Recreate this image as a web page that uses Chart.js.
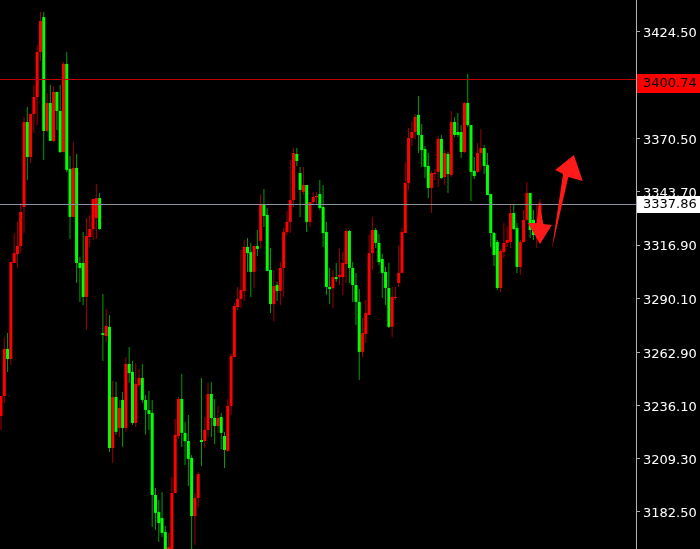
<!DOCTYPE html>
<html><head><meta charset="utf-8">
<script src="https://cdn.jsdelivr.net/npm/chart.js@4.4.0/dist/chart.umd.min.js"></script>
<style>html,body{margin:0;padding:0;background:#000;overflow:hidden}#wrap{width:700px;height:549px;position:relative}</style>
</head><body><div id="wrap"><canvas id="c" width="700" height="549"></canvas></div>
<script>
// OHLC series (one entry per candle, oldest first)
const open = [3230.8,3240.9,3264.6,3259.5,3307.9,3312.4,3316.5,3336.1,3378.9,3361.3,3383.0,3391.5,3414.2,3431.8,3374.4,3388.5,3369.4,3394.1,3384.5,3363.8,3408.2,3355.3,3331.1,3355.8,3307.9,3307.9,3290.8,3321.0,3325.0,3330.6,3340.6,3272.6,3271.1,3275.7,3214.7,3240.4,3224.8,3238.9,3224.8,3257.0,3253.0,3227.3,3246.4,3250.0,3238.9,3233.8,3232.3,3191.0,3182.5,3179.4,3172.4,3162.3,3162.3,3192.0,3220.7,3239.4,3222.3,3218.2,3209.7,3180.4,3189.5,3218.7,3218.2,3223.8,3241.9,3229.8,3225.8,3230.3,3220.7,3213.2,3235.9,3260.5,3285.7,3289.8,3293.8,3316.0,3313.4,3303.4,3316.5,3319.0,3337.6,3332.1,3304.4,3287.2,3296.8,3293.8,3305.4,3323.5,3328.6,3339.6,3362.8,3353.2,3343.7,3347.2,3328.6,3338.6,3341.1,3342.7,3336.1,3323.5,3295.8,3295.3,3300.8,3300.8,3300.8,3307.4,3324.0,3305.4,3296.8,3288.3,3263.1,3272.1,3281.7,3312.9,3324.5,3318.0,3309.9,3303.4,3295.3,3275.7,3290.3,3297.8,3302.9,3323.0,3348.2,3370.9,3373.9,3382.5,3372.4,3365.3,3356.8,3345.7,3352.7,3353.8,3370.4,3351.2,3362.8,3352.2,3378.9,3373.9,3373.9,3363.8,3388.5,3377.4,3354.3,3353.8,3363.3,3365.8,3357.3,3342.7,3323.0,3318.5,3295.3,3313.4,3318.0,3318.5,3333.1,3325.5,3305.9,3318.5,3329.6,3343.2,3329.6,3323.0,3325.5];
const high = [3240.9,3270.6,3272.6,3308.4,3323.0,3328.6,3338.1,3381.5,3386.5,3383.0,3397.6,3417.7,3434.4,3434.4,3393.5,3397.6,3397.1,3394.1,3397.6,3409.2,3414.2,3361.8,3368.9,3362.8,3310.9,3323.5,3330.6,3332.1,3340.1,3347.7,3343.2,3292.3,3284.7,3281.7,3248.5,3248.0,3238.9,3242.9,3260.5,3265.6,3258.5,3257.5,3254.5,3257.0,3241.4,3243.4,3238.9,3194.5,3188.5,3192.5,3175.4,3171.9,3200.1,3229.3,3240.4,3252.0,3227.8,3231.3,3211.2,3192.0,3202.6,3250.0,3230.3,3247.5,3248.0,3239.4,3235.9,3232.3,3222.8,3239.4,3262.1,3287.7,3295.8,3314.4,3319.5,3320.5,3318.0,3316.5,3324.5,3342.7,3345.2,3335.6,3315.5,3304.4,3298.3,3308.4,3325.5,3334.1,3359.8,3365.8,3365.8,3356.3,3356.3,3347.2,3338.6,3343.7,3343.7,3349.7,3347.2,3328.6,3305.4,3304.4,3307.9,3315.5,3313.4,3325.5,3324.5,3308.4,3302.9,3294.8,3280.2,3289.3,3322.0,3331.1,3325.5,3322.5,3312.4,3305.9,3307.9,3295.8,3295.8,3316.5,3325.5,3358.8,3375.9,3378.9,3383.0,3392.0,3377.9,3366.8,3363.3,3354.3,3355.3,3371.9,3372.4,3364.8,3363.8,3384.5,3381.5,3383.5,3377.4,3389.0,3403.1,3377.4,3361.3,3368.4,3375.4,3367.3,3363.3,3342.7,3323.5,3319.5,3315.0,3328.1,3326.5,3337.6,3337.6,3328.1,3319.5,3334.6,3348.7,3343.2,3334.6,3337.6,3340.1];
const low = [3223.8,3237.4,3253.0,3256.5,3307.9,3305.4,3313.4,3323.0,3349.7,3358.3,3373.4,3377.4,3409.7,3359.8,3373.9,3369.4,3368.9,3374.9,3363.3,3363.8,3353.8,3320.0,3331.1,3297.8,3288.3,3286.7,3274.1,3316.0,3319.5,3320.0,3324.5,3258.5,3268.1,3212.7,3207.1,3221.3,3220.2,3215.2,3222.8,3247.5,3226.3,3225.3,3245.4,3237.4,3221.3,3223.8,3174.9,3173.4,3167.3,3169.9,3158.3,3160.8,3160.8,3192.0,3219.2,3215.2,3206.1,3195.5,3163.8,3165.8,3185.0,3205.6,3214.7,3220.2,3220.2,3216.7,3222.3,3214.2,3204.6,3212.7,3231.3,3260.5,3284.2,3285.2,3288.8,3303.4,3290.8,3295.3,3311.4,3315.5,3326.0,3303.9,3282.7,3278.7,3288.8,3286.7,3290.8,3322.0,3323.0,3336.1,3356.8,3331.1,3342.2,3323.5,3326.0,3337.6,3337.1,3334.6,3316.0,3291.8,3287.2,3285.2,3298.3,3296.8,3291.8,3297.8,3297.8,3288.3,3276.7,3249.0,3260.5,3267.6,3281.7,3304.4,3315.5,3306.9,3290.3,3286.7,3275.2,3270.6,3289.3,3295.8,3302.9,3323.0,3344.7,3366.8,3370.4,3363.3,3356.3,3350.7,3340.6,3333.1,3349.7,3346.2,3350.2,3347.2,3343.2,3351.2,3371.4,3371.4,3360.8,3363.3,3376.4,3339.1,3350.2,3353.2,3354.8,3352.7,3342.2,3316.0,3306.4,3294.3,3293.3,3310.4,3316.0,3315.5,3324.5,3302.9,3301.9,3318.0,3329.1,3320.5,3319.5,3315.5,3322.0];
const close = [3240.9,3264.6,3259.5,3308.4,3312.9,3316.5,3333.6,3378.9,3361.3,3383.0,3391.5,3414.2,3429.8,3374.4,3388.5,3369.4,3394.1,3384.5,3363.8,3408.2,3354.8,3331.1,3355.8,3307.9,3305.4,3290.8,3321.5,3325.0,3340.1,3340.6,3325.0,3271.6,3276.2,3214.7,3240.4,3222.8,3234.9,3224.8,3257.0,3252.5,3227.3,3247.0,3250.0,3238.9,3233.8,3231.8,3191.0,3182.0,3176.9,3171.9,3162.3,3164.8,3192.0,3221.3,3239.4,3222.3,3218.2,3209.2,3180.4,3189.5,3201.6,3217.7,3223.8,3241.9,3229.8,3225.8,3229.8,3222.3,3213.7,3235.9,3261.0,3286.2,3289.8,3294.3,3316.0,3312.9,3303.4,3316.5,3315.0,3337.6,3331.6,3303.9,3287.2,3296.3,3293.8,3305.4,3323.5,3328.6,3339.6,3363.3,3359.3,3344.7,3347.2,3328.6,3338.6,3341.1,3341.7,3335.6,3323.0,3295.8,3294.8,3300.8,3299.8,3301.9,3307.9,3324.0,3305.4,3296.8,3288.3,3263.1,3272.6,3282.7,3312.9,3324.5,3318.0,3308.4,3302.9,3295.3,3275.7,3290.8,3290.8,3302.9,3323.5,3348.2,3370.9,3373.9,3381.5,3372.4,3364.8,3356.3,3345.7,3353.2,3353.2,3370.4,3350.7,3363.3,3352.7,3378.9,3372.4,3372.4,3363.8,3388.5,3377.4,3353.8,3351.7,3363.3,3365.8,3356.8,3342.2,3323.0,3311.9,3295.3,3313.9,3318.0,3319.5,3333.1,3325.0,3305.9,3318.5,3329.6,3343.2,3324.5,3322.0,3327.0,3337.9];
const barIndex = open.map((_, i) => i);
const yTickValues = [3424.50, 3370.50, 3343.70, 3316.90, 3290.10, 3262.90, 3236.10, 3209.30, 3182.50];
const levelPrice = 3400.74;
const bidPrice = 3337.86;
// hand-drawn arrows, as [barIndex, price] points
const arrowUp = [[167.6,3315.0],[172.6,3351.2],[177.0,3349.2],[174.3,3362.3],[168.6,3354.8],[171.0,3352.7]];
const arrowDown = [[163.7,3339.1],[165.0,3327.5],[167.6,3327.0],[164.0,3317.5],[160.3,3328.0],[163.0,3328.0]];

const FONT = {family: 'DejaVu Sans', size: 13};
const isUp = i => close[i] >= open[i];

const bgPlugin = {
  id: 'bg',
  beforeDraw(chart) {
    const ctx = chart.ctx;
    ctx.save(); ctx.fillStyle = '#000'; ctx.fillRect(0, 0, chart.width, chart.height); ctx.restore();
  }
};
const overlayPlugin = {
  id: 'overlay',
  afterDatasetsDraw(chart) {
    const {ctx, chartArea: a, scales: {x, y}} = chart;
    ctx.save();
    const hl = (p, col) => {
      const py = Math.round(y.getPixelForValue(p)) + 0.5;
      ctx.strokeStyle = col; ctx.lineWidth = 1;
      ctx.beginPath(); ctx.moveTo(a.left, py); ctx.lineTo(a.right, py); ctx.stroke();
    };
    hl(levelPrice, '#c00000');
    hl(bidPrice, '#8a9099');
    ctx.fillStyle = '#ff1a1a';
    [arrowUp, arrowDown].forEach(poly => {
      ctx.beginPath();
      poly.forEach(([i, p], k) => {
        const px = x.getPixelForValue(i), py = y.getPixelForValue(p);
        k ? ctx.lineTo(px, py) : ctx.moveTo(px, py);
      });
      ctx.closePath(); ctx.fill();
    });
    ctx.restore();
  },
  afterDraw(chart) {
    const {ctx, chartArea: a, scales: {y}} = chart;
    ctx.save();
    ctx.font = FONT.size + 'px ' + FONT.family;
    ctx.textBaseline = 'middle';
    const box = (p, bg, dy, h) => {
      const py = Math.round(y.getPixelForValue(p));
      ctx.fillStyle = bg;
      ctx.fillRect(a.right + 1, py + dy, chart.width - a.right - 1, h);
      ctx.fillStyle = '#000';
      ctx.fillText(p.toFixed(2), a.right + 7, py + dy + h / 2 + 0.5);
    };
    box(levelPrice, '#ff0000', -5, 19);
    box(bidPrice, '#ffffff', -8, 17);
    ctx.restore();
  }
};

new Chart(document.getElementById('c'), {
  type: 'bar',
  data: {
    datasets: [
      {
        label: 'wick',
        data: barIndex.map(i => ({x: i, y: [low[i], high[i]]})),
        backgroundColor: barIndex.map(i => isUp(i) ? '#a00000' : '#00a000'),
        barThickness: 1, grouped: false, order: 2, borderWidth: 0, inflateAmount: 0
      },
      {
        label: 'body',
        data: barIndex.map(i => ({x: i, y: [open[i], close[i]]})),
        backgroundColor: barIndex.map(i => isUp(i) ? '#ff0000' : '#00ff00'),
        barThickness: 3, minBarLength: 1, grouped: false, order: 1, borderWidth: 0, inflateAmount: 0
      }
    ]
  },
  options: {
    responsive: false, animation: false,
    layout: {padding: 0},
    plugins: {legend: {display: false}, tooltip: {enabled: false}},
    scales: {
      x: {type: 'linear', display: false, min: -0.304, max: 193.2, offset: false},
      y: {
        position: 'right', min: 3163.8, max: 3440.4,
        afterBuildTicks: s => { s.ticks = yTickValues.map(v => ({value: v})); },
        afterFit: s => { s.width = 64; s.paddingTop = 0; s.paddingBottom = 0; },
        ticks: {color: '#ffffff', font: FONT, padding: 3, labelOffset: 2, autoSkip: false, callback: v => Number(v).toFixed(2)},
        grid: {drawOnChartArea: false, drawTicks: true, tickLength: 4, color: '#b0b0b0'},
        border: {display: true, color: '#b0b0b0'}
      }
    }
  },
  plugins: [bgPlugin, overlayPlugin]
});
</script>
</body></html>
